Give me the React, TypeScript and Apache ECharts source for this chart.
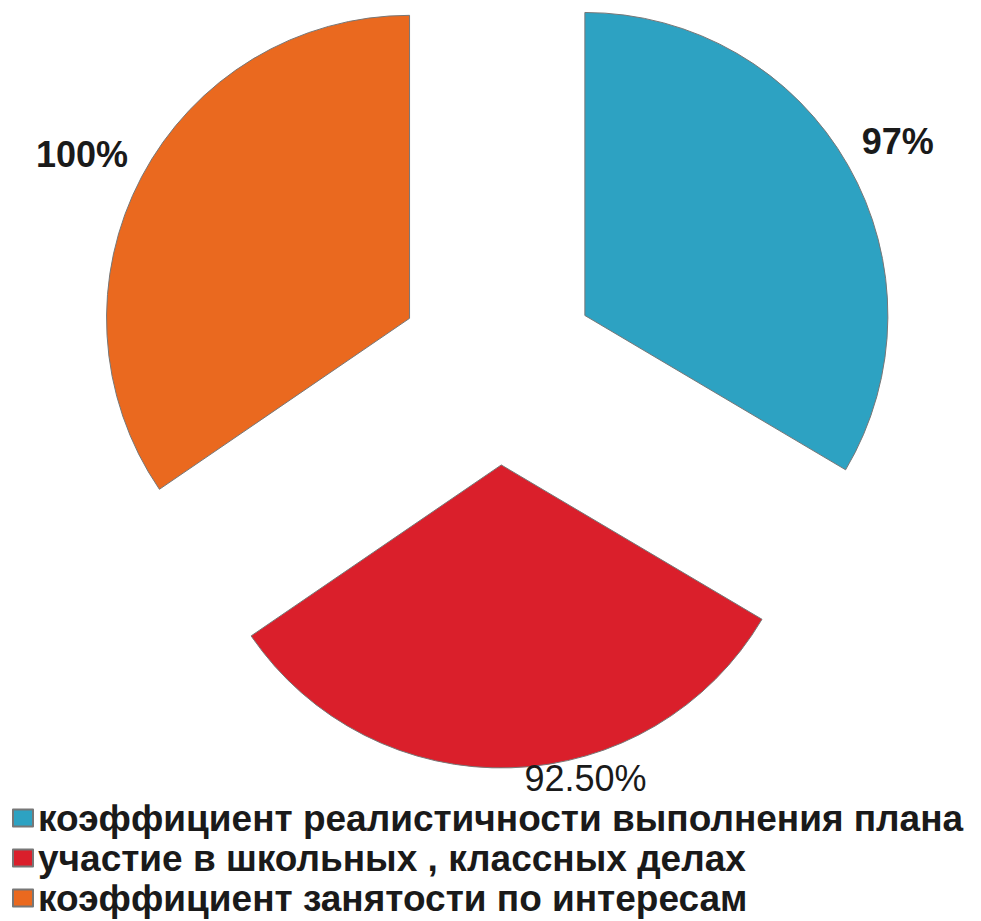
import React, { useEffect, useRef } from "react";
import * as echarts from "echarts";

const categories = [
  "коэффициент реалистичности выполнения плана",
  "участие в школьных , классных делах",
  "коэффициент занятости по интересам",
];
const values = [97, 92.5, 100];
const valueLabels = ["97%", "92.50%", "100%"];
const colors = ["#2DA2C2", "#DA1F2B", "#EA691F"];
const labelWeights = ["bold", "normal", "bold"];
const labelLineLengths = [48, 11, 47];
const labelLineLengths2 = [-28, 13, -28];

export default function App() {
  const ref = useRef<HTMLDivElement>(null);
  useEffect(() => {
    if (!ref.current) return;
    const chart = echarts.init(ref.current, undefined, { renderer: "svg" });
    const font = "'Liberation Sans', Arial, sans-serif";
    chart.setOption({
      animation: false,
      backgroundColor: "#ffffff",
      legend: {
        orient: "vertical",
        left: 12,
        top: 798,
        padding: 0,
        itemWidth: 20,
        itemHeight: 17,
        itemGap: 0,
        icon: "rect",
        selectedMode: false,
        data: categories,
        textStyle: {
          fontFamily: font,
          fontSize: 37,
          fontWeight: "bold",
          color: "#1a1a1a",
          lineHeight: 40,
        },
      },
      series: [
        {
          type: "pie",
          center: [498, 365],
          radius: [0, 303],
          startAngle: 90,
          clockwise: true,
          selectedMode: "multiple",
          selectedOffset: 100,
          avoidLabelOverlap: false,
          emphasis: { disabled: true },
          itemStyle: { borderColor: "#777777", borderWidth: 1 },
          select: { itemStyle: { borderColor: "#777777", borderWidth: 1 } },
          label: {
            show: true,
            position: "outside",
            distanceToLabelLine: 0,
            fontFamily: font,
            fontSize: 36,
            lineHeight: 28,
            color: "#1a1a1a",
          },
          labelLine: { show: false },
          data: categories.map((name, i) => ({
            name,
            value: values[i],
            selected: true,
            itemStyle: { color: colors[i] },
            label: {
              formatter: valueLabels[i],
              fontWeight: labelWeights[i],
            },
            labelLine: {
              show: false,
              length: labelLineLengths[i],
              length2: labelLineLengths2[i],
            },
          })),
        },
      ],
    });
    return () => chart.dispose();
  }, []);
  return (
    <div
      ref={ref}
      style={{ position: "fixed", left: 0, top: 0, width: 981, height: 921 }}
    />
  );
}
